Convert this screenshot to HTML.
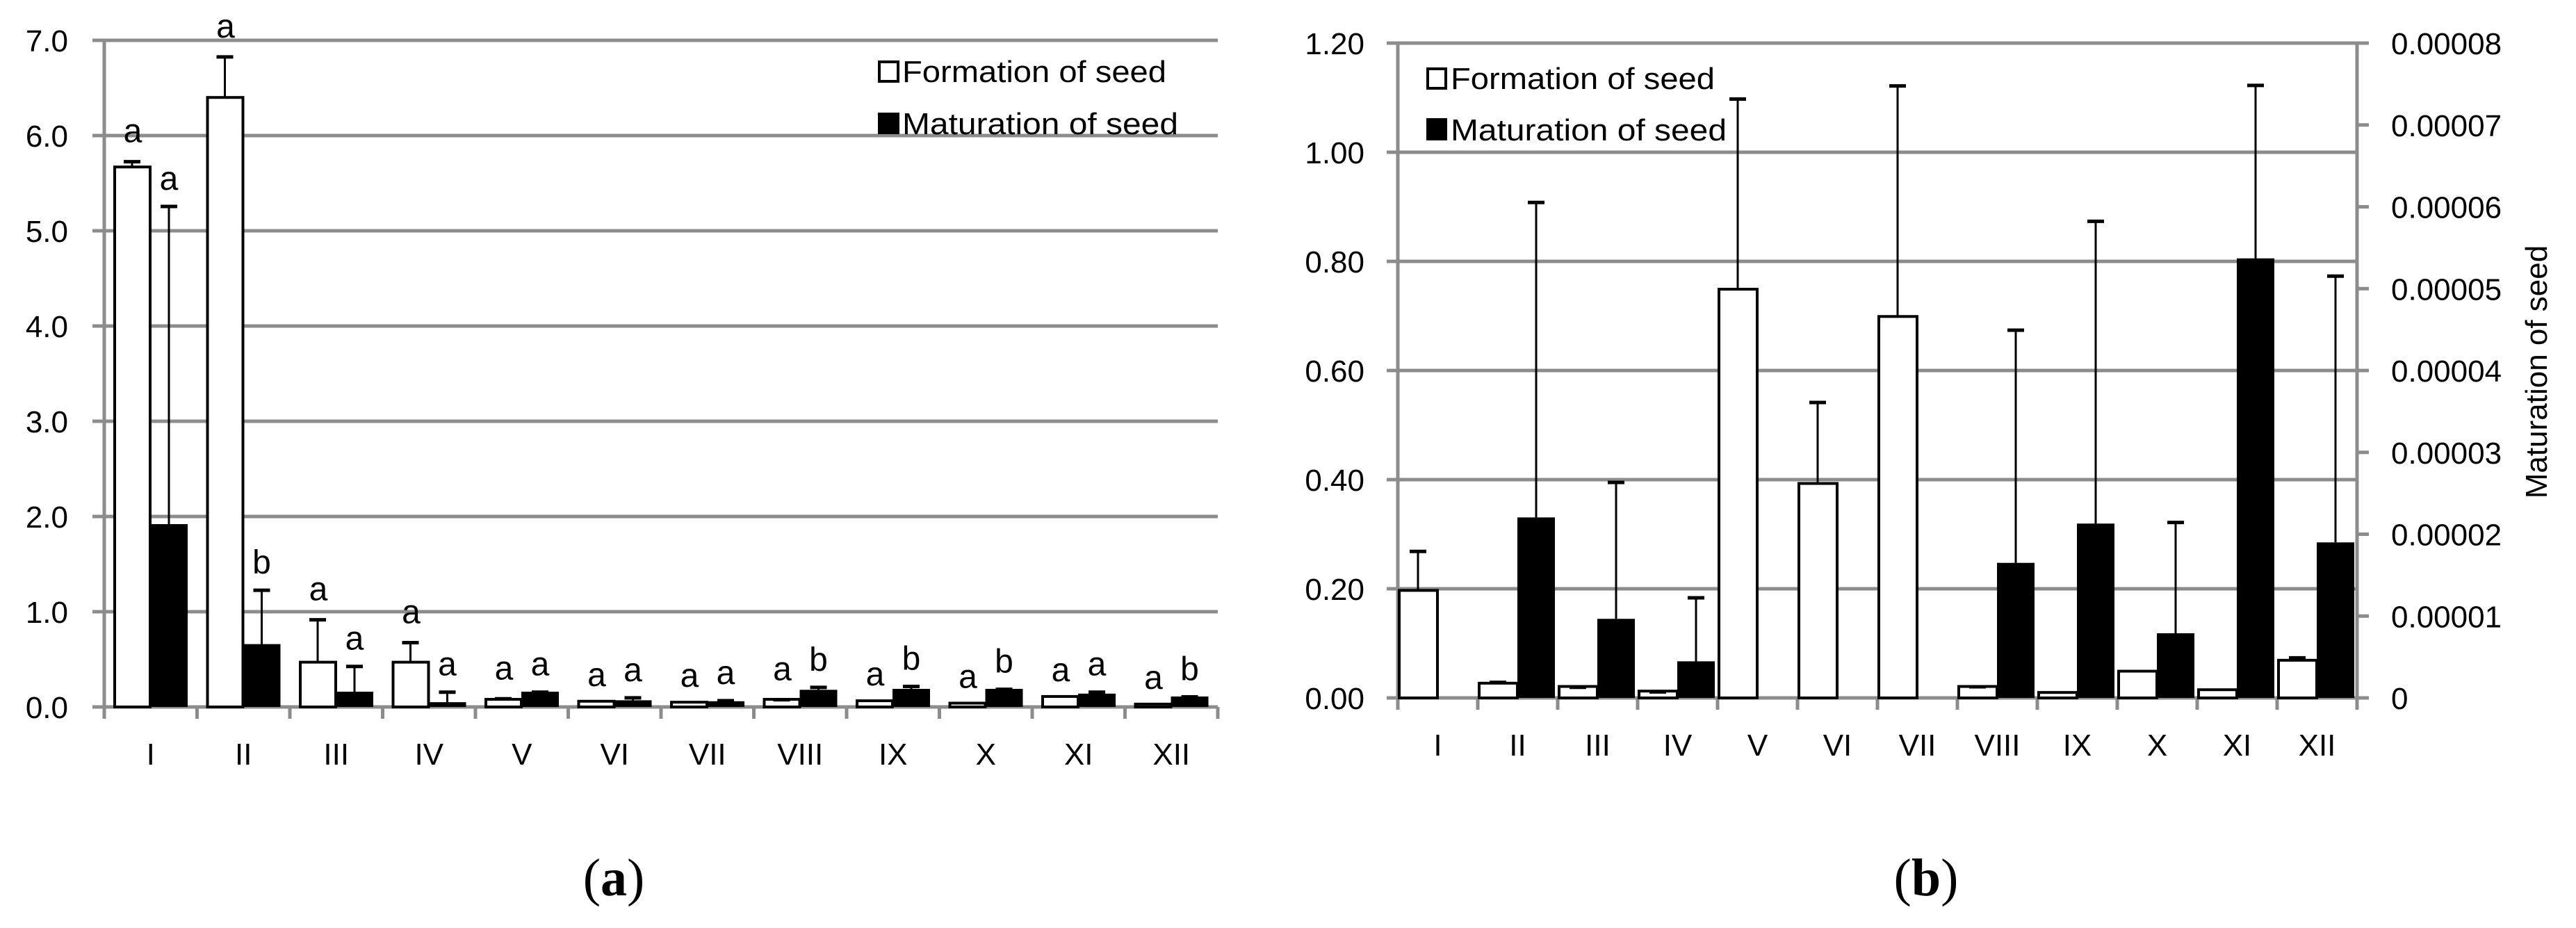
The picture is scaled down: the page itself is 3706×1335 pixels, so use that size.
<!DOCTYPE html>
<html><head><meta charset="utf-8"><style>
html,body{margin:0;padding:0;background:#fff;width:3706px;height:1335px;overflow:hidden}
svg{display:block}
text{font-family:"Liberation Sans",sans-serif;fill:#000}
</style></head><body>
<svg id="fig" width="3706" height="1335" viewBox="0 0 3706 1335" xmlns="http://www.w3.org/2000/svg">
<g id="chartA"></g>
<g id="chartB"></g>
<text x="883" y="1288" text-anchor="middle" style="font-family:'Liberation Serif',serif;font-size:76px">(<tspan font-weight="bold">a</tspan>)</text>
<text x="2771" y="1288" text-anchor="middle" style="font-family:'Liberation Serif',serif;font-size:76px">(<tspan font-weight="bold">b</tspan>)</text>
</svg>
<script>
const categories = ["I","II","III","IV","V","VI","VII","VIII","IX","X","XI","XII"];
// Panel (a)
const aFormation = [5.67,6.40,0.47,0.47,0.08,0.06,0.05,0.08,0.065,0.04,0.11,0.03];
const aFormationErr = [0.07,0.44,0.46,0.22,0.02,0.0,0.0,0.01,0.0,0.0,0.0,0.0];
const aMaturation = [1.92,0.66,0.16,0.05,0.16,0.07,0.06,0.18,0.19,0.19,0.14,0.11];
const aMaturationErr = [3.35,0.58,0.28,0.12,0.01,0.04,0.02,0.04,0.04,0.01,0.03,0.01];
const aLetterF = ["a","a","a","a","a","a","a","a","a","a","a","a"];
const aLetterM = ["a","b","a","a","a","a","a","b","b","b","a","b"];
const aTicks = ["0.0","1.0","2.0","3.0","4.0","5.0","6.0","7.0"];
// Panel (b)
const bFormation = [0.197,0.027,0.021,0.0125,0.749,0.393,0.699,0.021,0.010,0.049,0.015,0.069];
const bFormationErr = [0.074,0.004,0.001,0.001,0.351,0.151,0.425,0.002,0.0,0.0,0.0,0.007];
const bMaturation = [0,2.205e-5,0.966e-5,0.447e-5,0,0,0,1.65e-5,2.13e-5,0.79e-5,5.37e-5,1.90e-5];
const bMaturationErr = [0,3.865e-5,1.684e-5,0.793e-5,0,0,0,2.86e-5,3.71e-5,1.37e-5,2.13e-5,3.27e-5];
const bTicksL = ["0.00","0.20","0.40","0.60","0.80","1.00","1.20"];
const bTicksR = ["0","0.00001","0.00002","0.00003","0.00004","0.00005","0.00006","0.00007","0.00008"];

const NS="http://www.w3.org/2000/svg";
function mk(parent,tag,attrs,txt){const e=document.createElementNS(NS,tag);for(const k in attrs)e.setAttribute(k,attrs[k]);if(txt!==undefined)e.textContent=txt;parent.appendChild(e);return e;}
const GRID="#8c8c8c";

function errBar(g,x,yTop,yBase,name){
  const e=mk(g,"g",{});
  
  
  mk(e,"line",{x1:x,x2:x,y1:yBase,y2:yTop,stroke:"#000","stroke-width":3});
  mk(e,"line",{x1:x-12,x2:x+12,y1:yTop+2,y2:yTop+2,stroke:"#000","stroke-width":5});
}

// ---------- Panel A ----------
(function(){
  const g=document.getElementById("chartA");
  const x0=150, y0=1017, unit=137, cw=133.5;
  const y=v=>y0-v*unit;
  const cx=i=>x0+i*cw;
  aTicks.forEach((t,i)=>{
    const v=parseFloat(t);
    const l=mk(g,"line",{x1:133,x2:1752,y1:y(v),y2:y(v),stroke:GRID,"stroke-width":5});
    
    
    const tx=mk(g,"text",{x:98,y:y(v)+16,"text-anchor":"end","font-size":44},t);
    
    
  });
  mk(g,"line",{x1:x0,x2:x0,y1:y(7),y2:1034,stroke:GRID,"stroke-width":5});
  for(let i=0;i<=12;i++) mk(g,"line",{x1:cx(i),x2:cx(i),y1:y0,y2:1034,stroke:GRID,"stroke-width":5});
  categories.forEach((c,i)=>{
    const wx=cx(i)+15, bx=cx(i)+66;
    const wb=mk(g,"rect",{x:wx,y:y(aFormation[i]),width:51,height:y0-y(aFormation[i]),fill:"#fff",stroke:"#000","stroke-width":4});
    
    
    const bb=mk(g,"rect",{x:bx,y:y(aMaturation[i]),width:54,height:y0-y(aMaturation[i]),fill:"#000"});
    
    
    const ft=y(aFormation[i]+aFormationErr[i]), mt=y(aMaturation[i]+aMaturationErr[i]);
    if(aFormationErr[i]>0.005) errBar(g,wx+25,ft,y(aFormation[i]),'error-bar-formation-'+c);
    if(aMaturationErr[i]>0.005) errBar(g,bx+27,mt,y(aMaturation[i]),'error-bar-maturation-'+c);
    const l1=mk(g,"text",{x:wx+26,y:ft-(aFormationErr[i]>0.005?26:22),"text-anchor":"middle","font-size":48},aLetterF[i]);
    
    
    const l2=mk(g,"text",{x:bx+27,y:mt-22,"text-anchor":"middle","font-size":48},aLetterM[i]);
    
    
    const cl=mk(g,"text",{x:cx(i)+cw/2,y:1100,"text-anchor":"middle","font-size":44},c);
    
    
  });
  const lg=mk(g,"g",{});
  
  
  mk(lg,"rect",{x:1265,y:89,width:27,height:28,fill:"#fff",stroke:"#000","stroke-width":4});
  mk(lg,"text",{x:1298,y:118,"font-size":44,textLength:380,lengthAdjust:"spacingAndGlyphs"},"Formation of seed");
  mk(lg,"rect",{x:1263,y:162,width:31,height:31,fill:"#000"});
  mk(lg,"text",{x:1298,y:193,"font-size":44,textLength:397,lengthAdjust:"spacingAndGlyphs"},"Maturation of seed");
})();

// ---------- Panel B ----------
(function(){
  const g=document.getElementById("chartB");
  const x0=2011, y0=1004, cw=115;
  const yL=v=>y0-v/0.2*157;
  const yR=v=>y0-v/1e-5*117.75;
  const cx=i=>x0+i*cw;
  bTicksL.forEach(t=>{
    const v=parseFloat(t);
    const l=mk(g,"line",{x1:1995,x2:3391,y1:yL(v),y2:yL(v),stroke:GRID,"stroke-width":5});
    
    
    const tx=mk(g,"text",{x:1963,y:yL(v)+16,"text-anchor":"end","font-size":44},t);
    
    
  });
  bTicksR.forEach(t=>{
    const v=parseFloat(t);
    mk(g,"line",{x1:3391,x2:3408,y1:yR(v),y2:yR(v),stroke:GRID,"stroke-width":5});
    const tx=mk(g,"text",{x:3440,y:yR(v)+16,"font-size":44},t);
    
    
  });
  mk(g,"line",{x1:x0,x2:x0,y1:yL(1.2),y2:1021,stroke:GRID,"stroke-width":5});
  mk(g,"line",{x1:3391,x2:3391,y1:yL(1.2),y2:1021,stroke:GRID,"stroke-width":5});
  for(let i=0;i<=12;i++) mk(g,"line",{x1:cx(i),x2:cx(i),y1:y0,y2:1021,stroke:GRID,"stroke-width":5});
  categories.forEach((c,i)=>{
    const wx=cx(i)+2, bx=cx(i)+57;
    const wb=mk(g,"rect",{x:wx,y:yL(bFormation[i]),width:55,height:y0-yL(bFormation[i]),fill:"#fff",stroke:"#000","stroke-width":4});
    
    
    if(bFormationErr[i]>0) errBar(g,wx+27,yL(bFormation[i]+bFormationErr[i]),yL(bFormation[i]),'error-bar-formation-'+c);
    if(bMaturation[i]>0){
      const bb=mk(g,"rect",{x:bx,y:yR(bMaturation[i]),width:54,height:y0-yR(bMaturation[i]),fill:"#000"});
      
      
      errBar(g,bx+27,yR(bMaturation[i]+bMaturationErr[i]),yR(bMaturation[i]),'error-bar-maturation-'+c);
    }
    const cl=mk(g,"text",{x:cx(i)+cw/2,y:1087,"text-anchor":"middle","font-size":44},c);
    
    
  });
  const at=mk(g,"text",{x:0,y:0,"text-anchor":"middle","font-size":44,transform:"translate(3664,535) rotate(-90)"},"Maturation of seed");
  
  
  const lg=mk(g,"g",{});
  
  
  mk(lg,"rect",{x:2054,y:99,width:26,height:28,fill:"#fff",stroke:"#000","stroke-width":4});
  mk(lg,"text",{x:2087,y:128,"font-size":44,textLength:380,lengthAdjust:"spacingAndGlyphs"},"Formation of seed");
  mk(lg,"rect",{x:2052,y:170,width:30,height:32,fill:"#000"});
  mk(lg,"text",{x:2087,y:202,"font-size":44,textLength:397,lengthAdjust:"spacingAndGlyphs"},"Maturation of seed");
})();
</script>
</body></html>
